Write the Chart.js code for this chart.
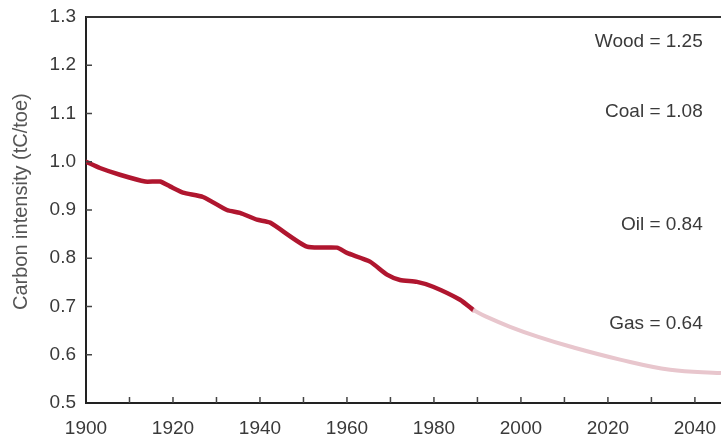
<!DOCTYPE html>
<html>
<head>
<meta charset="utf-8">
<title>Carbon intensity</title>
<script src="https://cdn.jsdelivr.net/npm/chart.js@4.4.1/dist/chart.umd.min.js"></script>
<style>
    html, body { margin: 0; padding: 0; background: #fff; }
    #wrap { width: 721px; height: 438px; }
</style>
</head>
<body>
<div id="wrap"><canvas id="intensityChart" width="721" height="438"></canvas></div>
<script>
// historical carbon intensity
const histYears = [1900, 1903.2, 1907.8, 1913.6, 1917.0, 1919.3, 1922.3, 1926.9, 1932.4, 1935.4,
    1939.3, 1942.3, 1950.8, 1957.7, 1960.0, 1965.3, 1969.2, 1972.2, 1976.1, 1979.8, 1986.0, 1989.0];
const histValues = [1.000, 0.987, 0.973, 0.959, 0.959, 0.949, 0.936, 0.927, 0.900, 0.894,
    0.880, 0.874, 0.824, 0.822, 0.811, 0.793, 0.766, 0.755, 0.751, 0.741, 0.714, 0.693];

// faded projection
const projYears = [1989.0, 1992.0, 1997.5, 2004.0, 2011.3, 2022.8, 2034.3, 2046];
const projValues = [0.693, 0.679, 0.658, 0.637, 0.617, 0.590, 0.569, 0.562];

// fuel reference values shown as text on the right
const fuelNames = ['Wood', 'Coal', 'Oil', 'Gas'];
const fuelValues = ['1.25', '1.08', '0.84', '0.64'];

const yTicks = [0.5, 0.6, 0.7, 0.8, 0.9, 1.0, 1.1, 1.2, 1.3];
const xLabelStep = 20;

const textColor = '#3a3a3a';
const fontFamily = '"Liberation Sans", Arial, Helvetica, sans-serif';

function toPoints(xs, ys) {
    return xs.map((x, i) => ({ x: x, y: ys[i] }));
}

// inward tick marks + top frame line
const framePlugin = {
    id: 'frame',
    afterDraw(chart) {
        const ctx = chart.ctx;
        const area = chart.chartArea;
        const xs = chart.scales.x;
        const ys = chart.scales.y;
        ctx.save();
        ctx.strokeStyle = '#444';
        ctx.lineWidth = 1.5;
        ctx.beginPath();
        ys.ticks.forEach(t => {
            const py = ys.getPixelForValue(t.value);
            if (py <= area.top + 1 || py >= area.bottom - 1) return;
            ctx.moveTo(area.left, py);
            ctx.lineTo(area.left + 6, py);
        });
        xs.ticks.forEach(t => {
            const px = xs.getPixelForValue(t.value);
            if (px <= area.left + 1) return;
            ctx.moveTo(px, area.bottom);
            ctx.lineTo(px, area.bottom - 6);
        });
        ctx.stroke();

        ctx.strokeStyle = '#333';
        ctx.lineWidth = 2;
        ctx.beginPath();
        ctx.moveTo(area.left, area.top);
        ctx.lineTo(area.right, area.top);
        ctx.stroke();
        ctx.restore();
    }
};

// the "Wood = 1.25" style labels
const fuelLabelPlugin = {
    id: 'fuelLabels',
    afterDatasetsDraw(chart) {
        const ctx = chart.ctx;
        const ys = chart.scales.y;
        const xs = chart.scales.x;
        const labelAt = [1.249, 1.104, 0.869, 0.665];
        ctx.save();
        ctx.fillStyle = textColor;
        ctx.font = '19px ' + fontFamily;
        ctx.textAlign = 'right';
        ctx.textBaseline = 'middle';
        fuelNames.forEach((name, i) => {
            ctx.fillText(name + ' = ' + fuelValues[i], xs.getPixelForValue(2041.8), ys.getPixelForValue(labelAt[i]));
        });
        ctx.restore();
    }
};

const chart = new Chart(document.getElementById('intensityChart'), {
    type: 'line',
    data: {
        datasets: [
            {
                label: 'Projection',
                data: toPoints(projYears, projValues),
                borderColor: '#e8c6cd',
                borderWidth: 4,
                pointRadius: 0,
                tension: 0.4,
                fill: false
            },
            {
                label: 'Historical',
                data: toPoints(histYears, histValues),
                borderColor: '#b0162f',
                borderWidth: 4.5,
                pointRadius: 0,
                tension: 0.2,
                borderCapStyle: 'round',
                borderJoinStyle: 'round',
                fill: false
            }
        ]
    },
    options: {
        responsive: false,
        animation: false,
        layout: { padding: { top: 17, right: 0, bottom: 0, left: 0 } },
        plugins: {
            legend: { display: false },
            tooltip: { enabled: false }
        },
        scales: {
            x: {
                type: 'linear',
                min: 1900,
                max: 2046,
                afterFit: scale => {
                    scale.height = 35;
                    scale.paddingLeft = 0;
                    scale.paddingRight = 0;
                },
                grid: { drawOnChartArea: false, drawTicks: false },
                border: { display: true, color: '#222', width: 2 },
                ticks: {
                    stepSize: 10,
                    includeBounds: false,
                    maxRotation: 0,
                    autoSkip: false,
                    padding: 16,
                    color: textColor,
                    font: { family: fontFamily, size: 19, lineHeight: 1.0 },
                    callback: v => (v % xLabelStep === 0 ? String(v) : '')
                }
            },
            y: {
                type: 'linear',
                min: yTicks[0],
                max: yTicks[yTicks.length - 1],
                afterFit: scale => {
                    scale.width = 86;
                    scale.paddingTop = 0;
                    scale.paddingBottom = 0;
                },
                afterBuildTicks: scale => { scale.ticks = yTicks.map(v => ({ value: v })); },
                grid: { drawOnChartArea: false, drawTicks: false },
                border: { display: true, color: '#222', width: 2 },
                ticks: {
                    padding: 10,
                    color: textColor,
                    font: { family: fontFamily, size: 19 },
                    callback: v => Number(v).toFixed(1)
                },
                title: {
                    display: true,
                    text: '   Carbon intensity (tC/toe)',
                    color: '#555',
                    padding: { top: 9, bottom: 0 },
                    font: { family: fontFamily, size: 20 }
                }
            }
        }
    },
    plugins: [framePlugin, fuelLabelPlugin]
});
console.log('chart area', JSON.stringify(chart.chartArea));
</script>
</body>
</html>
